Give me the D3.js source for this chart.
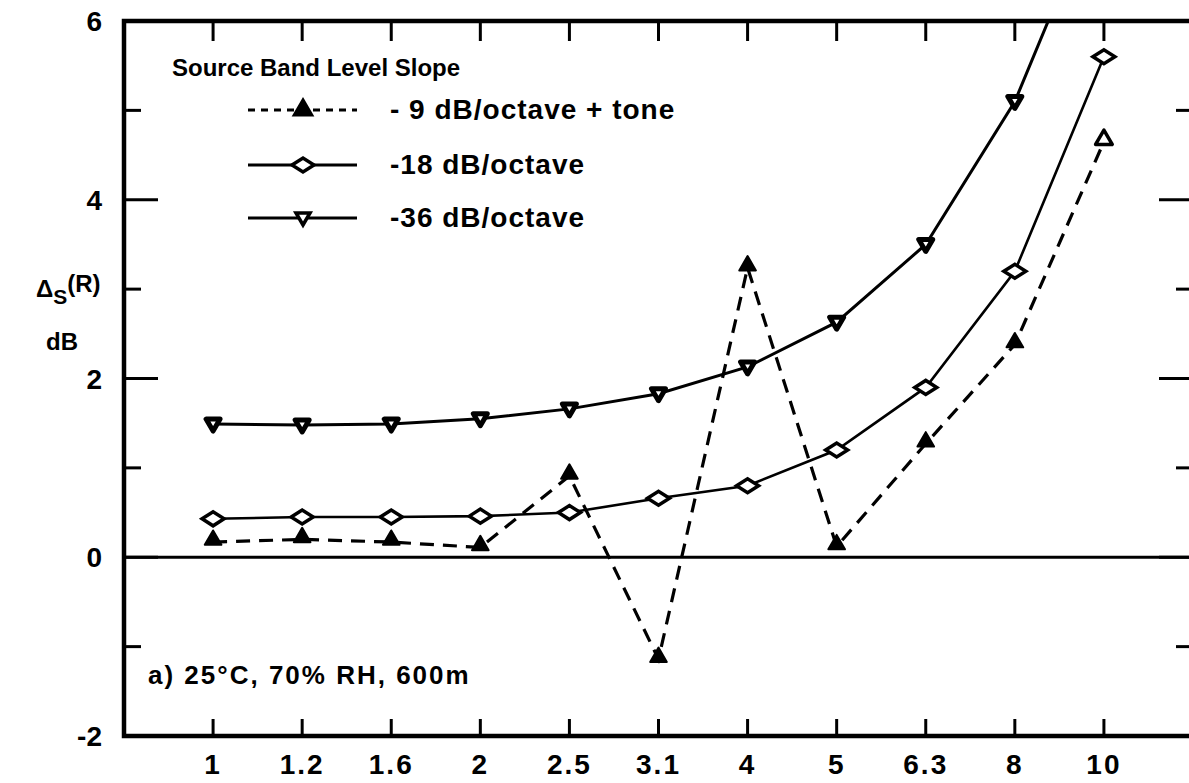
<!DOCTYPE html>
<html lang="en">
<head>
    <meta charset="UTF-8">
    <title>Source band level slope</title>
    <script type="text/javascript" src="https://cdnjs.cloudflare.com/ajax/libs/d3/7.8.5/d3.min.js"></script>
    <style>
        body { margin: 0; background: white; }
        svg text { font-family: "Liberation Sans", sans-serif; font-weight: bold; fill: black; }
    </style>
</head>
<body>
<svg id="chart" width="1189" height="783"></svg>

<script type="text/javascript">
    // one-third octave band centre frequencies (kHz) on the x axis
    const categories = ["1", "1.2", "1.6", "2", "2.5", "3.1", "4", "5", "6.3", "8", "10"];
    const tone9 = [0.17, 0.2, 0.17, 0.11, 0.91, -1.14, 3.24, 0.12, 1.27, 2.38, 4.65];
    const slope18 = [0.43, 0.45, 0.45, 0.46, 0.5, 0.66, 0.8, 1.2, 1.9, 3.2, 5.6];
    const slope36 = [1.49, 1.48, 1.49, 1.55, 1.66, 1.83, 2.13, 2.63, 3.5, 5.1, 7.5];
    const yTicks = [-2, -1, 0, 1, 2, 3, 4, 5, 6];
    const yLabels = [-2, 0, 2, 4, 6];
    const legendLabels = ["- 9 dB/octave + tone", "-18 dB/octave", "-36 dB/octave"];

    const pLeft = 124, pRight = 1193, pTop = 21, pBottom = 736;

    const x = d3.scalePoint().domain(categories).range([pLeft, pRight]).padding(1);
    const y = d3.scaleLinear().domain([-2, 6]).range([pBottom, pTop]);

    const svg = d3.select("#chart");

    svg.append("clipPath").attr("id", "plot")
        .append("rect")
        .attr("x", pLeft).attr("y", pTop)
        .attr("width", pRight - pLeft).attr("height", pBottom - pTop);

    // frame: left, top, bottom (right side falls off the page)
    svg.append("path")
        .attr("d", `M${pRight},${pTop}H${pLeft}V${pBottom}H${pRight}`)
        .attr("fill", "none").attr("stroke", "black").attr("stroke-width", 4.5);

    // zero line
    svg.append("line")
        .attr("x1", pLeft).attr("x2", pRight)
        .attr("y1", y(0)).attr("y2", y(0))
        .attr("stroke", "black").attr("stroke-width", 3);

    // ticks on the x axis (bottom pointing up, top pointing down)
    svg.append("g").selectAll("line")
        .data(categories).enter().append("line")
        .attr("x1", d => x(d)).attr("x2", d => x(d))
        .attr("y1", pBottom).attr("y2", pBottom - 17)
        .attr("stroke", "black").attr("stroke-width", 3);
    svg.append("g").selectAll("line")
        .data(categories).enter().append("line")
        .attr("x1", d => x(d)).attr("x2", d => x(d))
        .attr("y1", pTop).attr("y2", pTop + 20)
        .attr("stroke", "black").attr("stroke-width", 3);
    svg.append("g").selectAll("text")
        .data(categories).enter().append("text")
        .attr("x", d => x(d)).attr("y", 774)
        .attr("text-anchor", "middle")
        .attr("font-size", 28)
        .attr("letter-spacing", 2)
        .text(d => d);

    // ticks on the y axis, even values longer
    const tickLen = d => (d % 2 === 0 ? 34 : 17);
    const inner = yTicks.filter(d => d > -2 && d < 6);
    svg.append("g").selectAll("line")
        .data(inner).enter().append("line")
        .attr("x1", pLeft).attr("x2", d => pLeft + tickLen(d))
        .attr("y1", d => y(d)).attr("y2", d => y(d))
        .attr("stroke", "black").attr("stroke-width", 3);
    svg.append("g").selectAll("line")
        .data(inner).enter().append("line")
        .attr("x1", pRight).attr("x2", d => pRight - tickLen(d))
        .attr("y1", d => y(d)).attr("y2", d => y(d))
        .attr("stroke", "black").attr("stroke-width", 3);
    svg.append("g").selectAll("text")
        .data(yLabels).enter().append("text")
        .attr("x", 102).attr("y", d => y(d) + 10)
        .attr("text-anchor", "end")
        .attr("font-size", 28)
        .text(d => d);

    // y axis title
    const yt = svg.append("text").attr("x", 36).attr("y", 297).attr("font-size", 24);
    yt.append("tspan").text("Δ");
    yt.append("tspan").attr("dy", 7).attr("font-size", 21).text("S");
    yt.append("tspan").attr("dy", -12).text("(R)");
    svg.append("text").attr("x", 46).attr("y", 350).attr("font-size", 24).text("dB");

    // annotation
    svg.append("text").attr("x", 148).attr("y", 684).attr("font-size", 26)
        .attr("letter-spacing", 2)
        .text("a) 25°C, 70% RH, 600m");

    // markers
    const triUp = d3.symbol().type(d3.symbolTriangle).size(120);
    const triDown = "M-7,-5L7,-5L0,7Z";
    const diamond = "M-11,0L0,-7L11,0L0,7Z";

    function drawSeries(values, dash, width) {
        const pts = categories.map((c, i) => [x(c), y(values[i])]);
        svg.append("path")
            .attr("clip-path", "url(#plot)")
            .attr("d", d3.line()(pts))
            .attr("fill", "none").attr("stroke", "black")
            .attr("stroke-width", width)
            .attr("stroke-dasharray", dash);
        return pts.filter(p => p[1] >= pTop);
    }

    const p9 = drawSeries(tone9, "14,9", 3.2);
    const p18 = drawSeries(slope18, null, 2.6);
    const p36 = drawSeries(slope36, null, 3);

    svg.append("g").selectAll("path").data(p18).enter().append("path")
        .attr("transform", d => `translate(${d[0]},${d[1]})`)
        .attr("d", diamond).attr("fill", "white").attr("stroke", "black").attr("stroke-width", 3.5);
    svg.append("g").selectAll("path").data(p36).enter().append("path")
        .attr("transform", d => `translate(${d[0]},${d[1]})`)
        .attr("d", triDown).attr("fill", "white").attr("stroke", "black").attr("stroke-width", 5)
        .attr("stroke-linejoin", "round");
    // the last -9 dB point is drawn open in the original
    svg.append("g").selectAll("path").data(p9).enter().append("path")
        .attr("transform", d => `translate(${d[0]},${d[1] - 2})`)
        .attr("d", triUp)
        .attr("fill", (d, i) => (i === p9.length - 1 ? "white" : "black"))
        .attr("stroke", "black")
        .attr("stroke-width", (d, i) => (i === p9.length - 1 ? 3.5 : 2))
        .attr("stroke-linejoin", "round");

    // legend
    svg.append("text").attr("x", 172).attr("y", 76).attr("font-size", 24)
        .text("Source Band Level Slope");
    const rows = [110, 165, 218];
    const legendDash = ["7,6", null, null];
    const legendMark = [triUp(), diamond, triDown];
    const legendFill = ["black", "white", "white"];
    rows.forEach((ry, i) => {
        svg.append("line")
            .attr("x1", 248).attr("x2", 357).attr("y1", ry).attr("y2", ry)
            .attr("stroke", "black").attr("stroke-width", 3)
            .attr("stroke-dasharray", legendDash[i]);
        svg.append("path")
            .attr("transform", `translate(303,${ry})`)
            .attr("d", legendMark[i]).attr("fill", legendFill[i])
            .attr("stroke", "black").attr("stroke-width", 3.5);
        svg.append("text").attr("x", 390).attr("y", ry + 9).attr("font-size", 28)
            .attr("letter-spacing", 1)
            .text(legendLabels[i]);
    });
</script>

</body>
</html>
